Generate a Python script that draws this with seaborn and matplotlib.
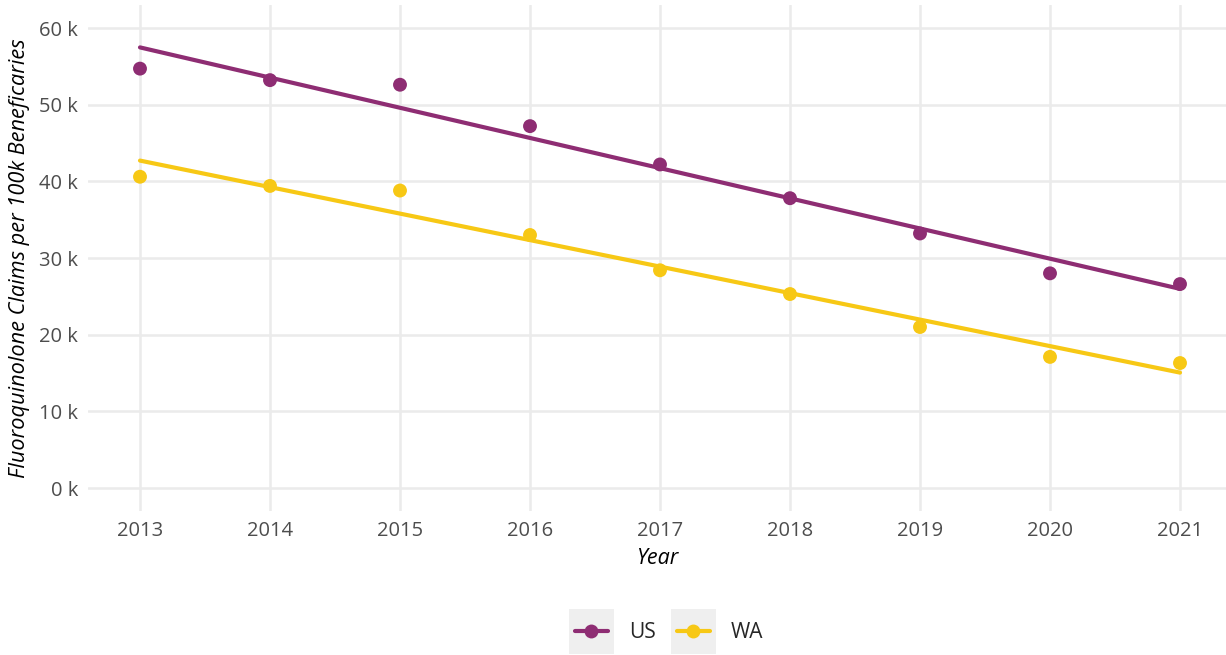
import matplotlib
matplotlib.use("Agg")
import matplotlib.pyplot as plt
from matplotlib.patches import Rectangle
from matplotlib.lines import Line2D
from matplotlib.legend_handler import HandlerLine2D
from matplotlib.ticker import FuncFormatter
import seaborn as sns
import pandas as pd

years = [2013, 2014, 2015, 2016, 2017, 2018, 2019, 2020, 2021]
us_values = [54700, 53200, 52600, 47200, 42200, 37800, 33200, 28000, 26600]
wa_values = [40600, 39400, 38800, 33000, 28400, 25300, 21000, 17100, 16300]
series_names = ["US", "WA"]
colors = {"US": "#8E2D73", "WA": "#F7C815"}

df = pd.DataFrame({
    "Year": years * 2,
    "Claims": us_values + wa_values,
    "Region": ["US"] * len(years) + ["WA"] * len(years),
})

KEY_SIZE_PT = 32.4


class KeyHandler(HandlerLine2D):
    def create_artists(self, legend, orig_handle, xdescent, ydescent, width,
                       height, fontsize, trans):
        cx = -xdescent + width / 2
        cy = -ydescent + height / 2
        rect = Rectangle((cx - KEY_SIZE_PT / 2, cy - KEY_SIZE_PT / 2),
                         KEY_SIZE_PT, KEY_SIZE_PT,
                         facecolor="#EFEFEF", edgecolor="none", transform=trans)
        arts = super().create_artists(legend, orig_handle, xdescent, ydescent,
                                      width, height, fontsize, trans)
        return [rect] + list(arts)


sns.set_theme(style="whitegrid")
plt.rcParams["font.family"] = ["Open Sans", "DejaVu Sans"]

fig = plt.figure(figsize=(12.26, 6.55), dpi=100)
W, H = 1226, 655
left, right, top, bottom = 88, 1226, 5, 511
ax = fig.add_axes([left / W, 1 - bottom / H, (right - left) / W, (bottom - top) / H])

for name in series_names:
    sub = df[df["Region"] == name]
    sns.regplot(data=sub, x="Year", y="Claims", ax=ax, scatter=False, ci=None,
                truncate=True, color=colors[name], line_kws={"lw": 3.0, "zorder": 3})
    sns.scatterplot(data=sub, x="Year", y="Claims", ax=ax, color=colors[name],
                    s=100, edgecolor="none", zorder=4, legend=False)

ax.set_xlim(2012.6, 2021 + (right - 1180) / 130)
ax.set_ylim(-3000, 63000)
ax.set_xticks(years)
ax.set_yticks([0, 10000, 20000, 30000, 40000, 50000, 60000])
ax.yaxis.set_major_formatter(FuncFormatter(lambda v, p: f"{int(v/1000)} k"))
ax.grid(True, color="#EBEBEB", lw=1.8)
for s in ax.spines.values():
    s.set_visible(False)
ax.tick_params(axis="both", labelsize=14.5, labelcolor="#4D4D4D", length=0, pad=7)
ax.set_xlabel("Year", fontsize=15.5, style="italic", color="black", labelpad=5)
ax.set_ylabel("Fluoroquinolone Claims per 100k Beneficaries", fontsize=15.7,
              style="italic", color="black", labelpad=7)
ax.set_facecolor("white")

handles = [Line2D([], [], color=colors[n], lw=3.0, marker="o", markersize=10,
                  markeredgewidth=0) for n in series_names]
fig.legend(handles, series_names, handler_map={Line2D: KeyHandler()},
           loc="center", bbox_to_anchor=(669 / W, 1 - 633 / H), ncol=2, frameon=False,
           fontsize=15, handlelength=1.6, handleheight=0.7, handletextpad=1.0,
           columnspacing=1.0, borderpad=0)

fig.savefig("out.png", dpi=100, facecolor="white")
